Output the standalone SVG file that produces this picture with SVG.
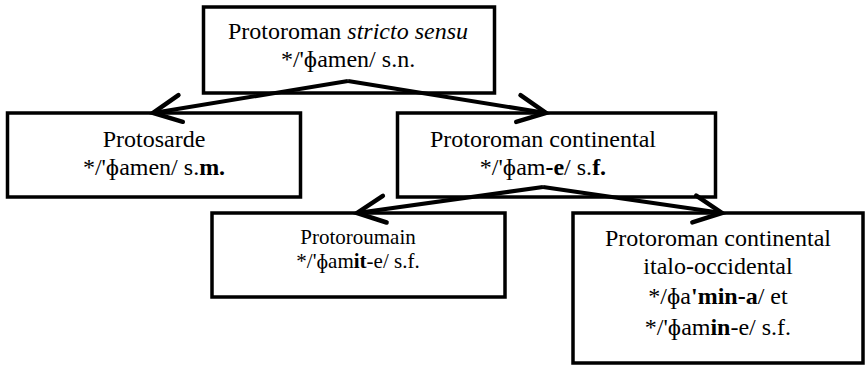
<svg xmlns="http://www.w3.org/2000/svg" width="866" height="365" viewBox="0 0 866 365">
<style>
.box{fill:#fff;stroke:#000;stroke-width:3.5}
text{font-family:'Liberation Serif','Times New Roman',serif;font-size:24px;fill:#000;text-anchor:middle}
.s{font-size:21px}
.b{font-weight:bold}
.i{font-style:italic}
.c{fill:none;stroke:#000;stroke-width:4;marker-end:url(#ah)}
</style>
<defs>
<marker id="ah" markerUnits="userSpaceOnUse" markerWidth="40" markerHeight="40" viewBox="-34 -18 40 36" refX="0" refY="0" orient="auto">
<path d="M-28,-13.5 L0,0 L-28,13.5" fill="none" stroke="#000" stroke-width="4.5" stroke-linecap="round" stroke-linejoin="miter"/>
</marker>
</defs>
<g id="n-top">
<rect class="box" x="203.5" y="7" width="291" height="86"/>
<text x="348" y="39">Protoroman <tspan class="i">stricto sensu</tspan></text>
<text x="348" y="67">*/'ɸamen/ s.n.</text>
</g>
<g id="n-protosarde">
<rect class="box" x="7.5" y="113" width="293" height="84"/>
<text x="154" y="147">Protosarde</text>
<text x="154" y="175">*/'ɸamen/ s.<tspan class="b">m.</tspan></text>
</g>
<g id="n-continental">
<rect class="box" x="397.5" y="113" width="318" height="84"/>
<text x="543" y="147">Protoroman continental</text>
<text x="543" y="175">*/'ɸam<tspan class="b">-e</tspan>/ s.<tspan class="b">f.</tspan></text>
</g>
<g id="n-protoroumain">
<rect class="box" x="212" y="213" width="293" height="84"/>
<text class="s" x="358" y="244">Protoroumain</text>
<text class="s" x="358" y="268">*/'ɸam<tspan class="b">it</tspan>-e/ s.f.</text>
</g>
<g id="n-italo">
<rect class="box" x="573" y="213" width="290" height="150"/>
<text x="718" y="246">Protoroman continental</text>
<text x="718" y="274">italo-occidental</text>
<text x="718" y="304">*/ɸa<tspan class="b">'min-a</tspan>/ et</text>
<text x="718" y="335">*/'ɸam<tspan class="b">in</tspan>-e/ s.f.</text>
</g>
<g id="connectors">
<path class="c" d="M348,81 L153,113"/>
<path class="c" d="M348,81 L546,113"/>
<path class="c" d="M543,187 L357,213"/>
<path class="c" d="M543,187 L722,213"/>
</g>
</svg>
